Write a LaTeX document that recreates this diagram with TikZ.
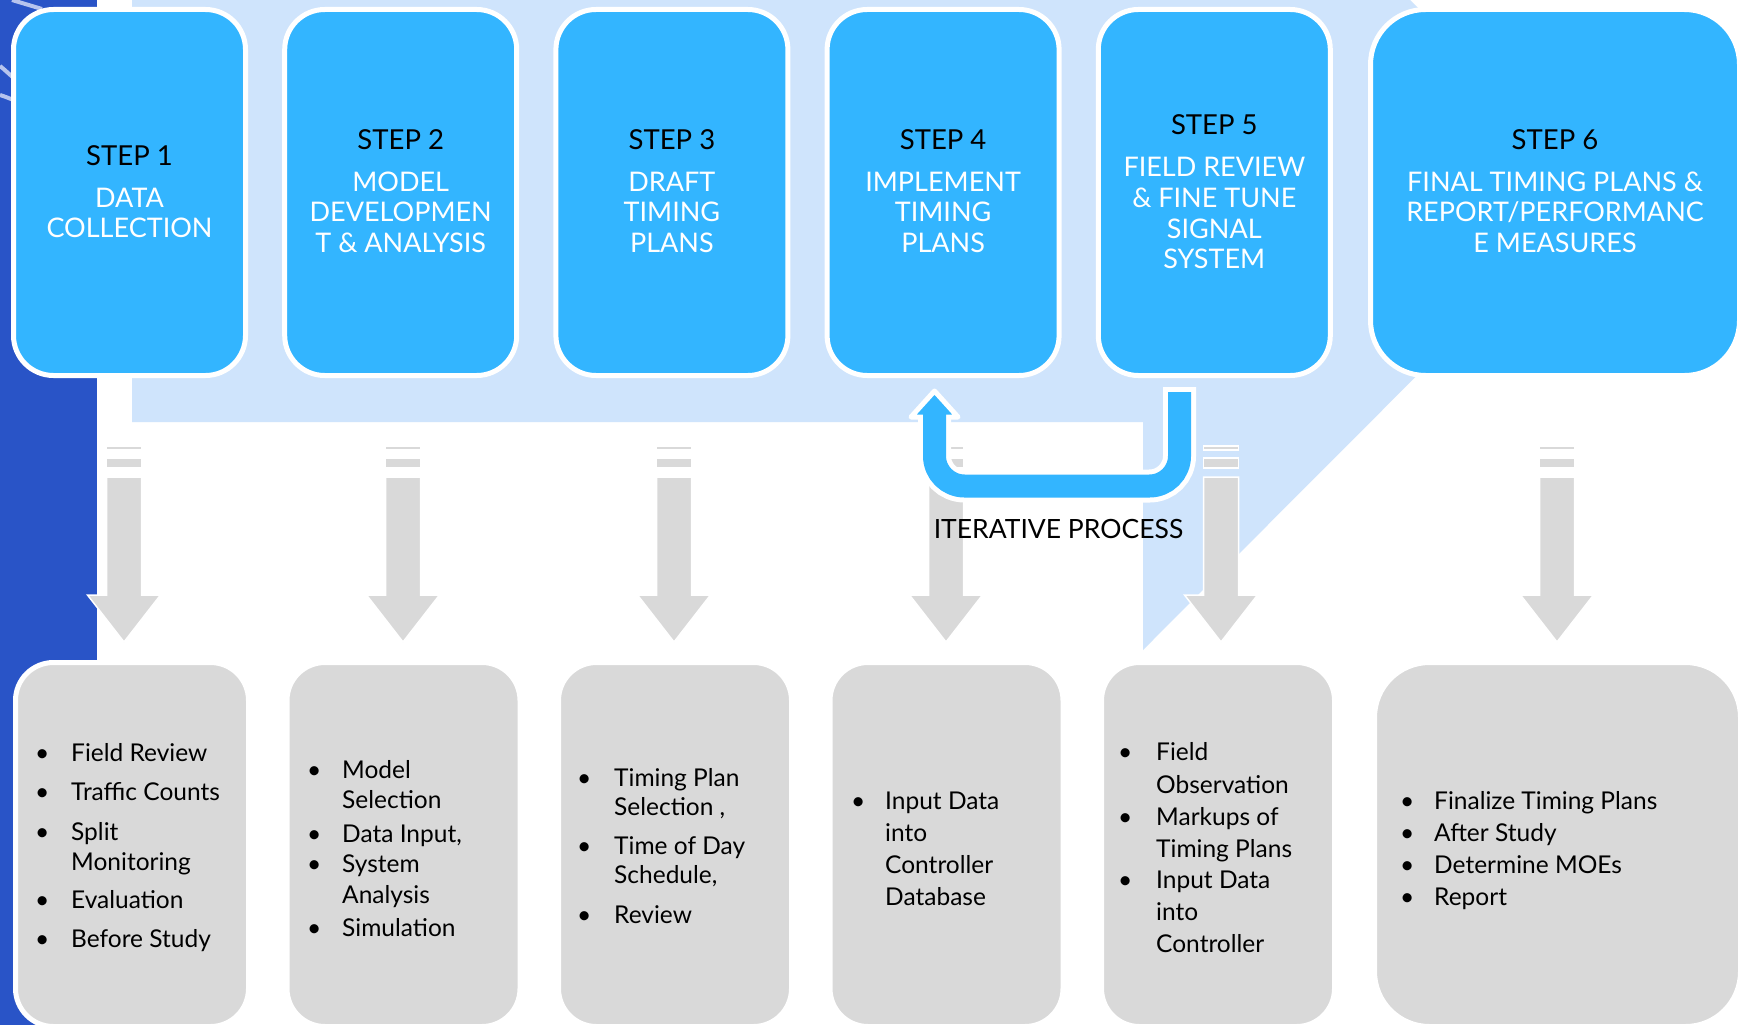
\documentclass[tikz,border=0pt]{standalone}
\usepackage{fontspec}
\setmainfont{Lato}
\definecolor{stepblue}{RGB}{51,181,255}
\definecolor{bgblue}{RGB}{207,228,252}
\definecolor{boxgrey}{RGB}{217,217,217}
\definecolor{stripblue}{RGB}{41,84,199}
\definecolor{swooshc}{RGB}{182,196,238}
\begin{document}
\begin{tikzpicture}[x=1pt,y=-1pt,
  stepbox/.style={fill=stepblue, draw=white, line width=5pt, rounded corners=40pt, inner sep=0pt},
  greybox/.style={fill=boxgrey, draw=white, line width=5pt, rounded corners=38pt, inner sep=0pt},
  downarrow/.style={fill=boxgrey, draw=white, line width=1.5pt},
  steplbl/.style={anchor=base, font=\fontsize{27.5}{30}\selectfont, text=black, inner sep=0pt},
  titlelbl/.style={anchor=base, font=\fontsize{27}{30}\selectfont, text=white, inner sep=0pt},
  itemtxt/.style={anchor=base west, font=\fontsize{24.5}{30}\selectfont, text=black, inner sep=0pt},
  swoosh/.style={draw=swooshc, line width=4pt},
]
\useasboundingbox (0,0) rectangle (1745,1025);
% backgrounds
\fill[white] (0,0) rectangle (1745,1025);
\fill[stripblue] (0,0) rectangle (97,1025);
\draw[swoosh] (0,66) .. controls (5,70) and (9,74) .. (16,80);
\draw[swoosh] (0,95) .. controls (6,97) .. (16,101);
\draw[swoosh] (12,0) .. controls (22,3) .. (42,9);
\fill[bgblue] (132,0) -- (1410,0) -- (1601,191) -- (1143,650) -- (1143,422) -- (132,422) -- cycle;
% down arrows
\foreach \cx [count=\k] in {124,403,674,946,1221,1557} {
  \draw[downarrow] (\cx-17.5,446) rectangle (\cx+17.5,450);
  \draw[downarrow] (\cx-17.5,458) rectangle (\cx+17.5,468);
  \draw[downarrow] (\cx-17.5,477) -- (\cx+17.5,477) -- (\cx+17.5,595) -- (\cx+36.5,595)
     -- (\cx,642) -- (\cx-36.5,595) -- (\cx-17.5,595) -- cycle;
}
% top step boxes
\foreach \i in {1,...,5} {
  \node[stepbox, minimum width=232pt, minimum height=366pt] (step\i) at ({16+271.2*(\i-1)+113.5},192.5) {};
}
\node[stepbox, rounded corners=55pt, minimum width=369pt, minimum height=366pt] (step6) at (1555,192.5) {};
% bottom grey boxes
\foreach \i in {1,...,5} {
  \node[greybox, minimum width=233pt, minimum height=364pt] (list\i) at ({18+271.5*(\i-1)+114},844.5) {};
}
\node[greybox, rounded corners=55pt, minimum width=366pt, minimum height=364pt] (list6) at (1557.5,844.5) {};
% iterative arrow
\coordinate (itA) at (1179.5,387);
\coordinate (itB) at (1179.5,392);
\coordinate (itC) at (1179.5,486);
\coordinate (itD) at (934.5,486);
\coordinate (itE) at (934.5,410);
\draw[white, line width=33pt, rounded corners=30pt] (itA) -- (itC) -- (itD) -- (itE);
\draw[fill=stepblue, draw=white, line width=5pt, line join=round] (911,417) -- (958,417) -- (934.5,391) -- cycle;
\draw[stepblue, line width=23pt, rounded corners=30pt] (itB) -- (itC) -- (itD) -- (itE);
\node[anchor=base, font=\fontsize{26.5}{30}\selectfont, inner sep=0pt] (iter) at (1058.5,538) {ITERATIVE PROCESS};
% step labels
\foreach \x/\y/\t [count=\k] in {129.5/165/{STEP 1}, 400.7/149/{STEP 2}, 671.9/149/{STEP 3},
    943.1/149/{STEP 4}, 1214.3/134/{STEP 5}, 1555/149/{STEP 6}} {
  \node[steplbl] (sl\k) at (\x,\y) {\t};
}
% titles
\foreach \x/\y/\t [count=\k] in {129.5/207/{DATA}, 129.5/237/{COLLECTION},
    400.7/191/{MODEL}, 400.7/221/{DEVELOPMEN}, 400.7/252/{T \& ANALYSIS},
    671.9/191/{DRAFT}, 671.9/221/{TIMING}, 671.9/252/{PLANS},
    943.1/191/{IMPLEMENT}, 943.1/221/{TIMING}, 943.1/252/{PLANS},
    1214.3/176/{FIELD REVIEW}, 1214.3/207/{\& FINE TUNE}, 1214.3/238/{SIGNAL}, 1214.3/268/{SYSTEM},
    1555/191/{FINAL TIMING PLANS \&}, 1555/221/{REPORT/PERFORMANC}, 1555/252/{E MEASURES}} {
  \node[titlelbl] (tl\k) at (\x,\y) {\t};
}
% bullets
\foreach \x/\y [count=\k] in {35/761, 35/800, 35/840, 35/908, 35/947,
    307/778, 307/842, 307/872, 307/936,
    577/786, 577/854, 577/923,
    851/809,
    1118/760, 1118/825, 1118/888,
    1400/809, 1400/841, 1400/873, 1400/905} {
  \node[itemtxt] (bu\k) at (\x,\y) {•};
}
% list texts
\foreach \x/\y/\t [count=\k] in {71/761/{Field Review}, 71/800/{Traffic Counts}, 71/840/{Split},
    71/870/{Monitoring}, 71/908/{Evaluation}, 71/947/{Before Study},
    342/778/{Model}, 342/808/{Selection}, 342/842/{Data Input,}, 342/872/{System},
    342/903/{Analysis}, 342/936/{Simulation},
    614/786/{Timing Plan}, 614/815/{Selection ,}, 614/854/{Time of Day}, 614/883/{Schedule,},
    614/923/{Review},
    885/809/{Input Data}, 885/841/{into}, 885/873/{Controller}, 885/905/{Database},
    1156/760/{Field}, 1156/793/{Observation}, 1156/825/{Markups of}, 1156/857/{Timing Plans},
    1156/888/{Input Data}, 1156/920/{into}, 1156/952/{Controller},
    1434/809/{Finalize Timing Plans}, 1434/841/{After Study}, 1434/873/{Determine MOEs},
    1434/905/{Report}} {
  \node[itemtxt] (it\k) at (\x,\y) {\t};
}
\end{tikzpicture}
\end{document}
